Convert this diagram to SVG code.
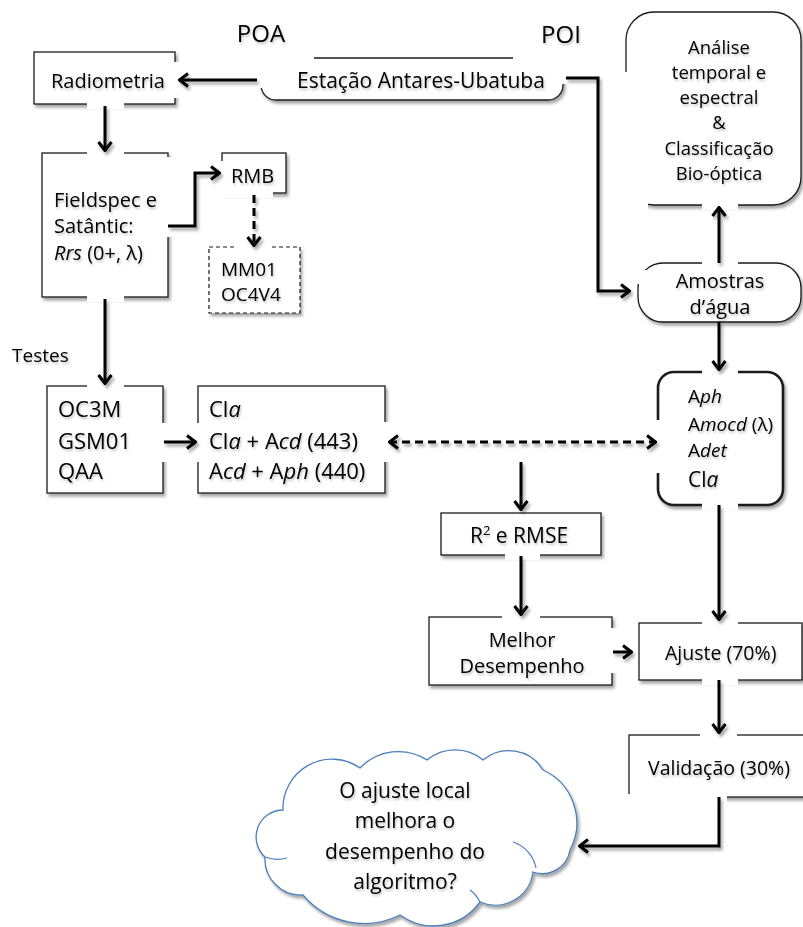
<svg xmlns="http://www.w3.org/2000/svg" width="803" height="927" viewBox="0 0 803 927">
<defs>
<filter id="sh" filterUnits="userSpaceOnUse" x="-20" y="-20" width="843" height="967"><feDropShadow dx="2" dy="3" stdDeviation="1.6" flood-color="#000" flood-opacity="0.35"/></filter>
<filter id="tsh" filterUnits="userSpaceOnUse" x="-20" y="-20" width="843" height="967"><feDropShadow dx="1" dy="2" stdDeviation="1.2" flood-color="#000" flood-opacity="0.25"/></filter>
<marker id="ah" viewBox="0 0 12 16" refX="11" refY="8" markerWidth="12" markerHeight="16" markerUnits="userSpaceOnUse" orient="auto-start-reverse"><path d="M2,1.5 L10.5,8 L2,14.5" fill="none" stroke="#000" stroke-width="3" stroke-dasharray="none"/></marker>
</defs>
<style>
.box{fill:#fff;stroke:#1a1a1a;stroke-width:1.3;filter:url(#sh)}
.dbox{fill:#fff;stroke:#1a1a1a;stroke-width:1.2;stroke-dasharray:4 3;filter:url(#sh)}
.thick{stroke-width:2.6}
.m{fill:#fff;stroke:none}
text{font-family:"Open Sans","Liberation Sans",sans-serif;fill:#000;font-size:20px;filter:url(#tsh)}
.big{font-size:24px}
.l22{font-size:22px}
.c{text-anchor:middle}
.i{font-style:italic}
.an{font-size:18.5px}
.cn{fill:none;stroke:#000;stroke-width:3;marker-end:url(#ah);filter:url(#sh)}
.dash{stroke-dasharray:8 5}
.cloud{fill:#fff;stroke:#4a7ebb;stroke-width:1.3;filter:url(#sh)}
.cl{fill:none;stroke:#4a7ebb;stroke-width:1.2}
</style>
<rect width="803" height="927" fill="#fff"/>

<g id="poa"><text class="big c" x="261" y="42">POA</text></g>
<g id="poi"><text class="big c" x="561" y="43">POI</text></g>

<g id="radiometria">
<rect class="box" x="34" y="52" width="141" height="52"/>
<rect class="m" x="87" y="99" width="37" height="10"/>
<rect class="m" x="170" y="62" width="10" height="36"/>
<text x="51" y="88">Radiometria</text>
</g>

<g id="estacao">
<rect class="box" x="261" y="58" width="302" height="42" rx="15"/>
<rect class="m" x="256" y="53" width="58" height="10"/>
<rect class="m" x="256" y="53" width="31" height="35"/>
<rect class="m" x="513" y="53" width="56" height="14"/>
<rect class="m" x="556" y="66" width="12" height="18"/>
<text x="297" y="88" style="font-size:21px">Estação Antares-Ubatuba</text>
</g>

<g id="analise">
<rect class="box" x="626" y="12" width="175" height="193" rx="28"/>
<rect class="m" x="619" y="72" width="29" height="138"/>
<rect class="m" x="702" y="198" width="36" height="12"/>
<text class="c an" x="719" y="53.5">Análise</text>
<text class="c an" x="719" y="79">temporal e</text>
<text class="c an" x="719" y="104">espectral</text>
<text class="c an" x="719" y="129">&amp;</text>
<text class="c an" x="719" y="154.5">Classificação</text>
<text class="c an" x="719" y="180">Bio-óptica</text>
</g>

<g id="fieldspec">
<rect class="box" x="42" y="153" width="126" height="144"/>
<rect class="m" x="87" y="148" width="37" height="10"/>
<rect class="m" x="87" y="292" width="37" height="10"/>
<rect class="m" x="162" y="157" width="12" height="80"/>
<text x="54" y="207">Fieldspec e</text>
<text x="54" y="233">Satântic:</text>
<text x="54" y="260"><tspan class="i">Rrs</tspan> (0+, λ)</text>
</g>

<g id="rmb">
<rect class="box" x="222" y="153" width="64" height="40"/>
<rect class="m" x="217" y="161" width="56" height="37"/>
<text x="231" y="183">RMB</text>
</g>

<g id="mm01">
<rect class="dbox" x="209" y="247" width="91" height="66"/>
<rect class="m" x="236" y="243" width="36" height="8"/>
<text x="221" y="276" style="font-size:19px">MM01</text>
<text x="221" y="301" style="font-size:19px">OC4V4</text>
</g>

<g id="testes"><text x="12" y="362" style="font-size:19px">Testes</text></g>

<g id="oc3m">
<rect class="box" x="47" y="386" width="116" height="107"/>
<rect class="m" x="87" y="381" width="37" height="10"/>
<rect class="m" x="158" y="423" width="10" height="39"/>
<text class="l22" x="58" y="417">OC3M</text>
<text class="l22" x="58" y="449">GSM01</text>
<text class="l22" x="58" y="479">QAA</text>
</g>

<g id="cla">
<rect class="box" x="198" y="386" width="187" height="107"/>
<rect class="m" x="193" y="423" width="10" height="39"/>
<rect class="m" x="380" y="422" width="10" height="40"/>
<text class="l22" x="209" y="417">Cl<tspan class="i">a</tspan></text>
<text class="l22" x="209" y="449">Cl<tspan class="i">a</tspan> + A<tspan class="i">cd</tspan> (443)</text>
<text class="l22" x="209" y="479">A<tspan class="i">cd</tspan> + A<tspan class="i">ph</tspan> (440)</text>
</g>

<g id="amostras">
<rect class="box" x="638" y="263" width="163" height="59" rx="25"/>
<rect class="m" x="702" y="258" width="36" height="10"/>
<rect class="m" x="633" y="270" width="28" height="14"/>
<text class="c" x="720" y="288">Amostras</text>
<text class="c" x="720" y="314">d’água</text>
</g>

<g id="aph">
<rect class="box thick" x="658" y="372" width="125" height="133" rx="16"/>
<rect class="m" x="702" y="366" width="36" height="11"/>
<rect class="m" x="702" y="500" width="36" height="11"/>
<rect class="m" x="652" y="420" width="12" height="53"/>
<text x="688" y="403" style="font-size:19px">A<tspan class="i">ph</tspan></text>
<text x="688" y="431" style="font-size:19px">A<tspan class="i">mocd</tspan> (λ)</text>
<text x="688" y="457" style="font-size:19px">A<tspan class="i">det</tspan></text>
<text x="688" y="487" style="font-size:21px">Cl<tspan class="i">a</tspan></text>
</g>

<g id="r2rmse">
<rect class="box" x="441" y="513" width="160" height="42"/>
<rect class="m" x="505" y="550" width="35" height="10"/>
<text x="470" y="543" style="font-size:21px">R<tspan font-size="13" dy="-8">2</tspan><tspan dy="8"> e RMSE</tspan></text>
</g>

<g id="melhor">
<rect class="box" x="429" y="617" width="183" height="68"/>
<rect class="m" x="502" y="612" width="38" height="10"/>
<rect class="m" x="607" y="628" width="10" height="45"/>
<text class="c" x="522" y="647">Melhor</text>
<text class="c" x="522" y="673">Desempenho</text>
</g>

<g id="ajuste">
<rect class="box" x="639" y="623" width="163" height="57"/>
<rect class="m" x="702" y="618" width="36" height="10"/>
<rect class="m" x="702" y="675" width="36" height="10"/>
<text x="665" y="660" style="font-size:19.5px">Ajuste (70%)</text>
</g>

<g id="validacao">
<rect class="box" x="629" y="735" width="176" height="62"/>
<rect class="m" x="700" y="730" width="37" height="10"/>
<rect class="m" x="624" y="794" width="103" height="10"/>
<text x="648" y="775" style="font-size:19.5px">Validação (30%)</text>
</g>

<g id="cloud">
<path class="cloud" d="M283 810 A49 49 0 0 1 360 768 A53 53 0 0 1 427 760 A44 44 0 0 1 483 760 A40 40 0 0 1 543 770 A58 58 0 0 1 570 850 A28 28 0 0 1 533 872 A38 38 0 0 1 480 902 A57 57 0 0 1 400 915 A80 80 0 0 1 303 895 A36 36 0 0 1 265 857 A27 27 0 0 1 283 810 Z"/>
<path class="cl" d="M513 842 A34 34 0 0 1 536 868"/>
<path class="cl" d="M265 857 Q276 861 287 858"/>
<path class="cl" d="M480 902 Q476 894 470 890"/>
<text class="c" x="405" y="798" style="font-size:21px">O ajuste local</text>
<text class="c" x="405" y="828" style="font-size:21px">melhora o</text>
<text class="c" x="405" y="859" style="font-size:21px">desempenho do</text>
<text class="c" x="405" y="889" style="font-size:21px">algoritmo?</text>
</g>

<g id="connectors">
<path class="cn" d="M257 80 H179"/>
<path class="cn" d="M105 106 V151"/>
<path class="cn" d="M168 226 H195 V173 H220"/>
<path class="cn dash" d="M254 195 V246"/>
<path class="cn" d="M105 299 V384"/>
<path class="cn" d="M164 442 H196"/>
<path class="cn dash" d="M389 442 H656" marker-start="url(#ah)"/>
<path class="cn" d="M566 78 H598 V291 H630"/>
<path class="cn" d="M719 263 V207"/>
<path class="cn" d="M719 322 V370"/>
<path class="cn" d="M521 462 V510"/>
<path class="cn" d="M521 556 V615"/>
<path class="cn" d="M613 652 H632"/>
<path class="cn" d="M719 505 V620"/>
<path class="cn" d="M719 680 V733"/>
<path class="cn" d="M719 797 V846 H579"/>
</g>
</svg>
